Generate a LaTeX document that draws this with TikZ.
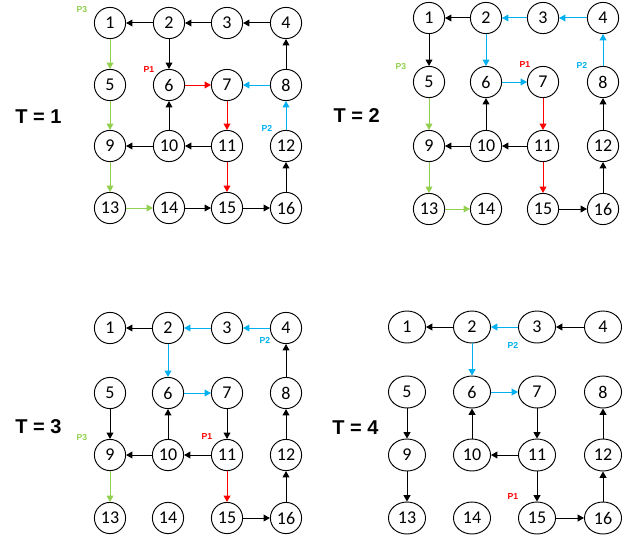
\documentclass[tikz,border=0pt]{standalone}
\usepackage{fontspec}
\setmainfont{Carlito}
\newfontfamily\lsans{Liberation Sans}
\usetikzlibrary{arrows.meta,shapes.geometric}
\definecolor{pgreen}{RGB}{146,208,80}
\definecolor{pblue}{RGB}{0,176,240}
\definecolor{pred}{RGB}{255,0,0}
\newcommand\mkgrid[4]{%
  \foreach \yy [count=\r from 0] in {#3}{%
    \foreach \xx [count=\c] in {#2}{%
      \pgfmathtruncatemacro\k{\r*4+\c}%
      \node[#4] (#1\k) at (\xx,\yy) {\k};
    }}}
\tikzset{
  nd/.style={circle,draw,line width=0.7pt,minimum size=23.4pt,inner sep=0pt,font=\fontsize{13.5}{13.5}\selectfont},
  nde/.style={ellipse,draw,line width=0.7pt,minimum width=27.8pt,minimum height=24pt,inner sep=0pt,font=\fontsize{13.5}{13.5}\selectfont},
  con/.style={line width=0.75pt,-{Triangle[length=4.8pt,width=5.2pt]}},
  blk/.style={con,black},
  grn/.style={con,pgreen},
  blu/.style={con,pblue},
  rd/.style={con,pred},
  tl/.style={font=\lsans\bfseries\fontsize{15}{15}\selectfont},
  pl/.style={font=\lsans\bfseries\fontsize{6.5}{6.5}\selectfont,inner sep=0pt}
}
\begin{document}
\begin{tikzpicture}[x=0.75pt,y=-0.75pt]
\useasboundingbox (0,0) rectangle (623,542);
\mkgrid{a}{110,169,227,286}{23,85,146,208}{nd}
\mkgrid{b}{429,486,543,603}{18,82,146,209}{nd}
\mkgrid{c}{110,168,227,286}{328,393,455,518}{nd}
\mkgrid{d}{407,472,537,603}{327,392,455,518}{nde}
% T labels
\node[tl] (t1) at (38.5,117) {T = 1};
\node[tl] (t2) at (356.7,116) {T = 2};
\node[tl] (t3) at (38.5,427) {T = 3};
\node[tl] (t4) at (355.5,428) {T = 4};
% P labels
\node[pl,text=pgreen] (pa3) at (82,10) {P3};
\node[pl,text=pred] (pa1) at (149,70) {P1};
\node[pl,text=pblue] (pa2) at (267,128) {P2};
\node[pl,text=pgreen] (pb3) at (401,67) {P3};
\node[pl,text=pred] (pb1) at (525,65) {P1};
\node[pl,text=pblue] (pb2) at (582,65) {P2};
\node[pl,text=pblue] (pc2) at (265,340) {P2};
\node[pl,text=pgreen] (pc3) at (82,438) {P3};
\node[pl,text=pred] (pc1) at (207,437) {P1};
\node[pl,text=pblue] (pd2) at (513,345) {P2};
\node[pl,text=pred] (pd1) at (513,497) {P1};
% T = 1
\foreach \s/\t in {2/1,3/2,4/3,2/6,8/4,10/6,10/9,11/10,14/15,15/16,16/12}
  \draw[blk] (a\s) -- (a\t);
\foreach \s/\t in {1/5,5/9,9/13,13/14} \draw[grn] (a\s) -- (a\t);
\foreach \s/\t in {6/7,7/11,11/15} \draw[rd] (a\s) -- (a\t);
\foreach \s/\t in {8/7,12/8} \draw[blu] (a\s) -- (a\t);
% T = 2
\foreach \s/\t in {2/1,1/5,10/6,10/9,11/10,12/8,16/12,15/16}
  \draw[blk] (b\s) -- (b\t);
\foreach \s/\t in {3/2,4/3,2/6,6/7,8/4} \draw[blu] (b\s) -- (b\t);
\foreach \s/\t in {5/9,9/13,13/14} \draw[grn] (b\s) -- (b\t);
\foreach \s/\t in {7/11,11/15} \draw[rd] (b\s) -- (b\t);
% T = 3
\foreach \s/\t in {2/1,5/9,7/11,10/6,10/9,11/10,8/4,12/8,16/12,15/16}
  \draw[blk] (c\s) -- (c\t);
\foreach \s/\t in {3/2,4/3,2/6,6/7} \draw[blu] (c\s) -- (c\t);
\draw[grn] (c9) -- (c13);
\draw[rd] (c11) -- (c15);
% T = 4
\foreach \s/\t in {2/1,4/3,5/9,9/13,7/11,11/10,10/6,11/15,15/16,16/12,12/8}
  \draw[blk] (d\s) -- (d\t);
\foreach \s/\t in {3/2,2/6,6/7} \draw[blu] (d\s) -- (d\t);
\end{tikzpicture}
\end{document}
